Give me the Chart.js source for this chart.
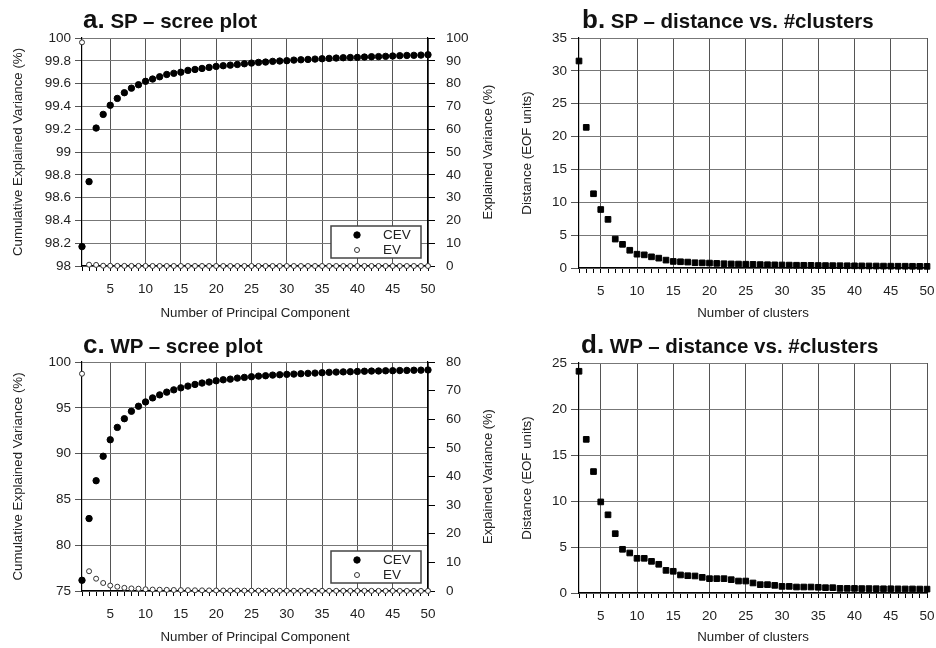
<!DOCTYPE html>
<html>
<head>
<meta charset="utf-8">
<script src="https://cdn.jsdelivr.net/npm/chart.js@4.4.1/dist/chart.umd.min.js"></script>
<style>
body { margin: 0; background: #fff; }
#wrap { position: relative; width: 936px; height: 648px; overflow: hidden; font-family: 'Liberation Sans', Arial, sans-serif; }
canvas { position: absolute; }
.ttl { position: absolute; font-weight: bold; font-size: 20.5px; color: #111; white-space: nowrap; line-height: 1; }
.ttl b { font-size: 26px; }
</style>
</head>
<body>
<div id="wrap">
  <canvas id="cA" width="500" height="324" style="left:0;top:0"></canvas>
  <canvas id="cB" width="436" height="324" style="left:500px;top:0"></canvas>
  <canvas id="cC" width="500" height="324" style="left:0;top:324px"></canvas>
  <canvas id="cD" width="436" height="324" style="left:500px;top:324px"></canvas>
  <div class="ttl" style="left:83px;top:6px"><b>a.</b> SP – scree plot</div>
  <div class="ttl" style="left:582px;top:6px"><b>b.</b> SP – distance vs. #clusters</div>
  <div class="ttl" style="left:83px;top:331px"><b>c.</b> WP – scree plot</div>
  <div class="ttl" style="left:581px;top:331px"><b>d.</b> WP – distance vs. #clusters</div>
</div>
<script>
// component / cluster numbers
const components = [1,2,3,4,5,6,7,8,9,10,11,12,13,14,15,16,17,18,19,20,21,22,23,24,25,
    26,27,28,29,30,31,32,33,34,35,36,37,38,39,40,41,42,43,44,45,46,47,48,49,50];
const clusters = [2,3,4,5,6,7,8,9,10,11,12,13,14,15,16,17,18,19,20,21,22,23,24,25,
    26,27,28,29,30,31,32,33,34,35,36,37,38,39,40,41,42,43,44,45,46,47,48,49,50];

// a. SP scree plot
const spCEV = [98.17, 98.74, 99.21, 99.33, 99.41, 99.47, 99.52, 99.56, 99.59, 99.62,
    99.64, 99.66, 99.68, 99.69, 99.70, 99.716, 99.724, 99.733, 99.742, 99.751,
    99.757, 99.762, 99.768, 99.774, 99.780, 99.786, 99.789, 99.795, 99.798, 99.801,
    99.806, 99.809, 99.812, 99.815, 99.818, 99.821, 99.824, 99.827, 99.829, 99.830,
    99.833, 99.836, 99.837, 99.839, 99.842, 99.845, 99.847, 99.848, 99.850, 99.853];
const spEV = [98.1, 0.57, 0.47, 0.12, 0.09, 0.06, 0.05, 0.04, 0.035, 0.03,
    0.02, 0.02, 0.02, 0.015, 0.012, 0.012, 0.01, 0.01, 0.01, 0.009,
    0.008, 0.006, 0.006, 0.006, 0.006, 0.006, 0.005, 0.005, 0.004, 0.004,
    0.004, 0.004, 0.004, 0.003, 0.003, 0.003, 0.003, 0.003, 0.003, 0.003,
    0.003, 0.003, 0.002, 0.002, 0.002, 0.002, 0.002, 0.002, 0.002, 0.002];

// c. WP scree plot
const wpCEV = [76.17, 82.91, 87.04, 89.71, 91.51, 92.86, 93.81, 94.62, 95.17, 95.64,
    96.08, 96.41, 96.71, 96.96, 97.18, 97.37, 97.55, 97.70, 97.81, 97.95,
    98.06, 98.13, 98.24, 98.32, 98.39, 98.46, 98.50, 98.57, 98.61, 98.65,
    98.68, 98.72, 98.76, 98.79, 98.83, 98.87, 98.90, 98.92, 98.94, 98.97,
    98.99, 99.01, 99.02, 99.04, 99.05, 99.07, 99.08, 99.10, 99.11, 99.13];
const wpEV = [75.9, 6.9, 4.3, 2.8, 1.9, 1.5, 1.1, 0.9, 0.8, 0.6,
    0.5, 0.45, 0.4, 0.35, 0.3, 0.28, 0.25, 0.22, 0.2, 0.18,
    0.16, 0.15, 0.14, 0.13, 0.12, 0.11, 0.1, 0.1, 0.09, 0.09,
    0.08, 0.08, 0.07, 0.07, 0.07, 0.06, 0.06, 0.06, 0.05, 0.05,
    0.05, 0.05, 0.04, 0.04, 0.04, 0.04, 0.04, 0.03, 0.03, 0.03];

// b. / d. distance vs. number of clusters
const spDist = [31.5, 21.4, 11.3, 8.9, 7.4, 4.4, 3.6, 2.7, 2.1, 2.0,
    1.7, 1.5, 1.2, 1.0, 0.95, 0.9, 0.8, 0.78, 0.75, 0.7,
    0.65, 0.62, 0.6, 0.58, 0.55, 0.52, 0.5, 0.48, 0.46, 0.44,
    0.42, 0.41, 0.4, 0.38, 0.37, 0.36, 0.35, 0.34, 0.33, 0.32,
    0.31, 0.3, 0.29, 0.28, 0.27, 0.27, 0.26, 0.25, 0.25];
const wpDist = [24.1, 16.7, 13.2, 9.9, 8.5, 6.45, 4.75, 4.35, 3.77, 3.77,
    3.44, 3.12, 2.46, 2.36, 1.96, 1.88, 1.85, 1.70, 1.56, 1.56,
    1.56, 1.45, 1.30, 1.30, 1.09, 0.91, 0.91, 0.83, 0.72, 0.72,
    0.65, 0.65, 0.65, 0.62, 0.58, 0.58, 0.5, 0.5, 0.5, 0.48,
    0.48, 0.47, 0.46, 0.46, 0.45, 0.44, 0.44, 0.43, 0.42];

const FONT = "'Liberation Sans', Arial, sans-serif";
Chart.defaults.font.family = FONT;
Chart.defaults.color = '#222';
Chart.defaults.animation = false;

function pts(xs, ys) {
    return xs.map((x, i) => ({ x: x, y: ys[i] }));
}

// legend in a box inside the plot area (bottom right)
const boxLegend = {
    id: 'boxLegend',
    afterDraw(chart, args, opts) {
        if (!opts.show) return;
        const ctx = chart.ctx;
        const a = chart.chartArea;
        const x = a.right - opts.right - opts.width;
        const y = a.bottom - opts.bottom - opts.height;
        ctx.save();
        ctx.fillStyle = '#fff';
        ctx.fillRect(x, y, opts.width, opts.height);
        ctx.strokeStyle = '#444';
        ctx.lineWidth = 1.5;
        ctx.strokeRect(x, y, opts.width, opts.height);
        ctx.font = '13.5px ' + FONT;
        ctx.textBaseline = 'middle';
        chart.data.datasets.forEach((ds, i) => {
            const cy = y + 9 + i * 15;
            ctx.beginPath();
            ctx.arc(x + 26, cy, ds.pointRadius, 0, Math.PI * 2);
            ctx.fillStyle = ds.backgroundColor;
            ctx.fill();
            ctx.lineWidth = 1;
            ctx.strokeStyle = ds.borderColor;
            ctx.stroke();
            ctx.fillStyle = '#222';
            ctx.fillText(ds.label, x + 52, cy);
        });
        ctx.restore();
    }
};

// right axis title, reading bottom to top like the left one
const sideTitle = {
    id: 'sideTitle',
    afterDraw(chart, args, opts) {
        if (!opts.text) return;
        const ctx = chart.ctx;
        const a = chart.chartArea;
        ctx.save();
        ctx.translate(opts.x, (a.top + a.bottom) / 2);
        ctx.rotate(-Math.PI / 2);
        ctx.font = '13px ' + FONT;
        ctx.fillStyle = '#222';
        ctx.textAlign = 'center';
        ctx.textBaseline = 'middle';
        ctx.fillText(opts.text, 0, 0);
        ctx.restore();
    }
};

function xAxis(min, title, h) {
    return {
        type: 'linear',
        min: min,
        max: 50,
        ticks: {
            stepSize: 1,
            autoSkip: false,
            maxRotation: 0,
            padding: 10,
            color: '#222',
            font: { size: 13.5 },
            callback: v => (v % 5 === 0 ? v : '')
        },
        grid: {
            color: c => (c.tick && c.tick.value % 5 === 0 ? '#555' : 'rgba(0,0,0,0)'),
            tickColor: '#000',
            tickLength: 5
        },
        border: { color: '#000', width: 1.2 },
        title: {
            display: true,
            text: title,
            color: '#222',
            font: { size: 13.3 },
            padding: { top: 0, bottom: 3 }
        },
        afterFit: s => {
            s.height = h;
            s.paddingLeft = 0;
            s.paddingRight = 0;
        }
    };
}

function yAxis(min, max, step, title, w, tickLen, titlePad) {
    return {
        type: 'linear',
        position: 'left',
        min: min,
        max: max,
        ticks: {
            stepSize: step,
            padding: 4,
            color: '#222',
            font: { size: 13.5 },
            callback: v => String(Number(v.toFixed(1)))
        },
        grid: { color: '#777', tickColor: '#555', tickLength: tickLen },
        border: { color: '#000', width: 1.2 },
        title: {
            display: true,
            text: title,
            color: '#222',
            font: { size: 13.3 },
            padding: { top: titlePad, bottom: 0 }
        },
        afterFit: s => { s.width = w; }
    };
}

function y1Axis(max) {
    return {
        type: 'linear',
        position: 'right',
        min: 0,
        max: max,
        ticks: { stepSize: 10, padding: 11, color: '#222', font: { size: 13.5 } },
        grid: { drawOnChartArea: false, tickColor: '#000', tickLength: 7 },
        border: { color: '#000', width: 1.2 },
        afterFit: s => { s.width = 72; }
    };
}

function screeChart(id, cev, ev, yMin, yStep, y1Max, xHeight) {
    return new Chart(document.getElementById(id), {
        type: 'scatter',
        data: {
            datasets: [{
                label: 'CEV',
                data: pts(components, cev),
                yAxisID: 'y',
                pointRadius: 3.2,
                borderWidth: 1,
                backgroundColor: '#000',
                borderColor: '#000',
                clip: false
            }, {
                label: 'EV',
                data: pts(components, ev),
                yAxisID: 'y1',
                pointRadius: 2.5,
                borderWidth: 1,
                backgroundColor: '#fff',
                borderColor: '#333',
                clip: false
            }]
        },
        options: {
            responsive: false,
            devicePixelRatio: 1,
            layout: { padding: { top: 38, right: 0, left: 0, bottom: 0 } },
            plugins: {
                legend: { display: false },
                tooltip: { enabled: false },
                boxLegend: { show: true, right: 7, bottom: 8, width: 90, height: 32 },
                sideTitle: { text: 'Explained Variance (%)', x: 488 }
            },
            scales: {
                x: xAxis(1, 'Number of Principal Component', xHeight),
                y: yAxis(yMin, 100, yStep, 'Cumulative Explained Variance (%)', 82, 7, 10),
                y1: y1Axis(y1Max)
            }
        },
        plugins: [boxLegend, sideTitle]
    });
}

function distChart(id, dist, yMax, top, xHeight) {
    return new Chart(document.getElementById(id), {
        type: 'scatter',
        data: {
            datasets: [{
                label: 'Distance',
                data: pts(clusters, dist),
                pointStyle: 'rect',
                pointRadius: 4,
                borderWidth: 1,
                backgroundColor: '#000',
                borderColor: '#000',
                clip: false
            }]
        },
        options: {
            responsive: false,
            devicePixelRatio: 1,
            layout: { padding: { top: top, right: 9, left: 0, bottom: 0 } },
            plugins: {
                legend: { display: false },
                tooltip: { enabled: false }
            },
            scales: {
                x: xAxis(2, 'Number of clusters', xHeight),
                y: yAxis(0, yMax, 5, 'Distance (EOF units)', 79, 8, 19)
            }
        }
    });
}

screeChart('cA', spCEV, spEV, 98, 0.2, 100, 58);
distChart('cB', spDist, 35, 38, 56);
screeChart('cC', wpCEV, wpEV, 75, 5, 80, 57);
distChart('cD', wpDist, 25, 39, 55);
</script>
</body>
</html>
